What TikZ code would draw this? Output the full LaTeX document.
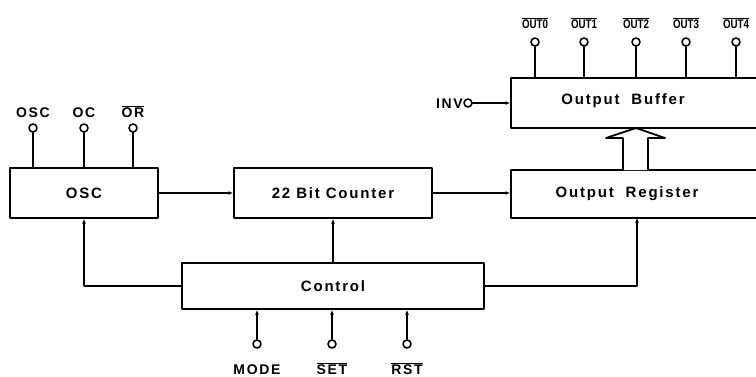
\documentclass[tikz,border=0pt]{standalone}
\usepackage{fontspec}
\setmainfont{Liberation Sans}[LetterSpace=12]
\usetikzlibrary{arrows.meta}

\begin{document}
\begin{tikzpicture}[
  x=1pt, y=-1pt,
  line cap=round, line join=round,
  every node/.style={font=\bfseries\fontsize{15}{17}\selectfont, inner sep=1pt},
  block/.style={draw, line width=2pt, inner sep=0pt},
  wire/.style={line width=1.8pt},
  sig/.style={wire, -{Latex[length=4.5pt,width=4pt]}},
  pin/.style={circle, draw, fill=white, line width=1.6pt, minimum size=8pt, inner sep=0pt},
  pinlabel/.style={font=\bfseries\fontsize{14}{16}\selectfont, inner sep=0pt},
  outlabel/.style={font=\bfseries\fontsize{12.5}{14}\selectfont\addfontfeatures{LetterSpace=0}, inner sep=0pt},
]
\useasboundingbox (0,0) rectangle (756,376);
\clip (0,0) rectangle (756,376);

% blocks
\node[block, minimum width=148pt, minimum height=50pt] (osc) at (84,193) {OSC};
\node[block, minimum width=198pt, minimum height=50pt] (counter) at (333,193) {22 Bit Counter};
\node[block, minimum width=270pt, minimum height=48pt, anchor=west] (reg) at (510,194) {};
\node (reglabel) at (627,194) {Output\ \ Register};
\node[block, minimum width=270pt, minimum height=50pt, anchor=west] (buffer) at (510,103) {};
\node (buflabel) at (623,101) {Output\ \ Buffer};
\node[block, minimum width=302pt, minimum height=46pt] (control) at (333,286) {Control};

% pins of the oscillator
\foreach \x/\name/\txt in {33/osc/OSC, 84/oc/OC, 133/or/$\overline{\hbox{OR}}$} {
  \node[pin] (pin\name) at (\x,128) {};
  \node[pinlabel, anchor=base] (lab\name) at (\x,117) {\txt};
  \draw[wire] (pin\name) -- (pin\name |- osc.north);
}

% outputs
\foreach \x/\n in {535/0, 584/1, 636/2, 686/3, 736/4} {
  \node[pin] (pinout\n) at (\x,42) {};
  \node[outlabel, anchor=base] (labout\n) at (\x,28)
    {\scalebox{0.78}[1]{$\overline{\hbox{OUT\n}}$}};
  \draw[wire] (pinout\n) -- (pinout\n |- buffer.north);
}

% control inputs
\foreach \x/\name/\txt in {257/mode/MODE, 332/set/$\overline{\hbox{SET}}$, 407/rst/$\overline{\hbox{RST}}$} {
  \node[pin] (pin\name) at (\x,344) {};
  \node[pinlabel, anchor=base] (lab\name) at (\x,374) {\txt};
  \draw[sig] (pin\name) -- (pin\name |- control.south);
}

% invert input
\node[pin] (pininv) at (468,103) {};
\node[pinlabel, anchor=base east] (labinv) at (463,108) {INV};
\draw[sig] (pininv) -- (pininv -| buffer.west);

% connections
\coordinate (regin) at (637,218);
\draw[sig] (osc.east) -- (osc.east -| counter.west);
\draw[sig] (counter.east) -- (counter.east -| reg.west);
\draw[sig] (control.west) -| (osc.south);
\draw[sig] (control.north) -- (control.north |- counter.south);
\draw[sig] (control.east) -| (regin);

% bus arrow
\draw[wire, fill=white] (623,170) -- (623,138) -- (606,138) -- (636,128)
  -- (665,138) -- (648,138) -- (648,170);
\end{tikzpicture}
\end{document}
